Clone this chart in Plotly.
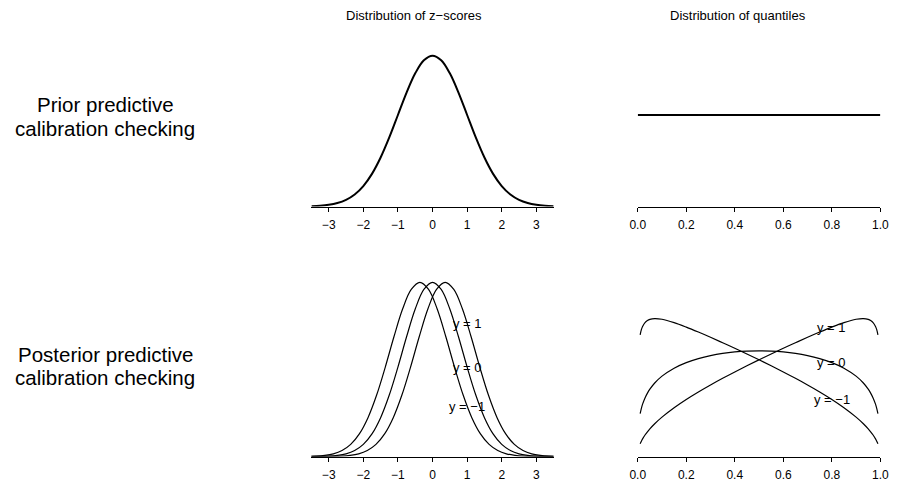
import plotly.graph_objects as go

# ---------------- data ----------------
# Top-left: distribution of z-scores (prior predictive)
z_grid = [-3.5, -3.25, -3.0, -2.75, -2.5, -2.25, -2.0, -1.75, -1.5, -1.25, -1.0, -0.75, -0.5, -0.25, 0.0,
          0.25, 0.5, 0.75, 1.0, 1.25, 1.5, 1.75, 2.0, 2.25, 2.5, 2.75, 3.0, 3.25, 3.5]
prior_z_density = [0.0009, 0.0020, 0.0044, 0.0091, 0.0175, 0.0317, 0.0540, 0.0863, 0.1295, 0.1826, 0.2420,
                   0.3011, 0.3521, 0.3867, 0.3989, 0.3867, 0.3521, 0.3011, 0.2420, 0.1826, 0.1295, 0.0863,
                   0.0540, 0.0317, 0.0175, 0.0091, 0.0044, 0.0020, 0.0009]

# Top-right: distribution of quantiles (prior predictive)
prior_q = [0.0, 1.0]
prior_q_density = [1.0, 1.0]

# Bottom-left: distribution of z-scores (posterior predictive), one curve per y
post_z_x_pos = [-3.5, -3.135, -2.885, -2.635, -2.385, -2.135, -1.885, -1.635, -1.385, -1.135, -0.885, -0.635,
                -0.385, -0.135, 0.115, 0.365, 0.615, 0.865, 1.115, 1.365, 1.615, 1.865, 2.115, 2.365,
                2.615, 2.865, 3.115, 3.365, 3.615, 3.865]
post_z_x_mid = [-3.75, -3.5, -3.25, -3.0, -2.75, -2.5, -2.25, -2.0, -1.75, -1.5, -1.25, -1.0, -0.75, -0.5, -0.25, 0.0,
                0.25, 0.5, 0.75, 1.0, 1.25, 1.5, 1.75, 2.0, 2.25, 2.5, 2.75, 3.0, 3.25, 3.5]
post_z_x_neg = [-3.865, -3.615, -3.365, -3.115, -2.865, -2.615, -2.365, -2.115, -1.865, -1.615, -1.365, -1.115,
                -0.865, -0.615, -0.365, -0.115, 0.135, 0.385, 0.635, 0.885, 1.135, 1.385, 1.635, 1.885,
                2.135, 2.385, 2.635, 2.885, 3.135, 3.5]
post_z_y_pos = [0.0000, 0.0001, 0.0004, 0.0011, 0.0030, 0.0071, 0.0158, 0.0320, 0.0598, 0.1028, 0.1625, 0.2365,
                0.3166, 0.3899, 0.4418, 0.4607, 0.4418, 0.3899, 0.3166, 0.2365, 0.1625, 0.1028, 0.0598,
                0.0320, 0.0158, 0.0071, 0.0030, 0.0011, 0.0004, 0.0001]
post_z_y_mid = [0.0000, 0.0001, 0.0004, 0.0011, 0.0030, 0.0071, 0.0158, 0.0320, 0.0598, 0.1028, 0.1625, 0.2365,
                0.3166, 0.3899, 0.4418, 0.4607, 0.4418, 0.3899, 0.3166, 0.2365, 0.1625, 0.1028, 0.0598,
                0.0320, 0.0158, 0.0071, 0.0030, 0.0011, 0.0004, 0.0001]
post_z_y_neg = [0.0001, 0.0004, 0.0011, 0.0030, 0.0071, 0.0158, 0.0320, 0.0598, 0.1028, 0.1625, 0.2365,
                0.3166, 0.3899, 0.4418, 0.4607, 0.4418, 0.3899, 0.3166, 0.2365, 0.1625, 0.1028, 0.0598,
                0.0320, 0.0158, 0.0071, 0.0030, 0.0011, 0.0004, 0.0001, 0.0000]

# Bottom-right: distribution of quantiles (posterior predictive)
q_grid = [0.01, 0.015, 0.02, 0.03, 0.04, 0.05, 0.07, 0.10, 0.15, 0.20, 0.25, 0.30, 0.35, 0.40, 0.45, 0.50,
          0.55, 0.60, 0.65, 0.70, 0.75, 0.80, 0.85, 0.90, 0.93, 0.95, 0.96, 0.97, 0.98, 0.985, 0.99]
q_density_y0 = [0.4686, 0.5268, 0.5717, 0.6404, 0.6928, 0.7355, 0.8032, 0.8783, 0.9654, 1.0261, 1.0704,
                1.1030, 1.1265, 1.1424, 1.1517, 1.1547, 1.1517, 1.1424, 1.1265, 1.1030, 1.0704, 1.0261,
                0.9654, 0.8783, 0.8032, 0.7355, 0.6928, 0.6404, 0.5717, 0.5268, 0.4686]
q_density_ym1 = [1.3303, 1.3861, 1.4213, 1.4637, 1.4863, 1.4987, 1.5074, 1.4996, 1.4629, 1.4142, 1.3601,
                 1.3028, 1.2433, 1.1825, 1.1204, 1.0566, 0.9913, 0.9241, 0.8546, 0.7819, 0.7054, 0.6234,
                 0.5335, 0.4307, 0.3583, 0.3022, 0.2704, 0.2346, 0.1926, 0.1676, 0.1382]
q_density_y1 = [0.1382, 0.1676, 0.1926, 0.2346, 0.2704, 0.3022, 0.3583, 0.4307, 0.5335, 0.6234, 0.7054,
                0.7819, 0.8546, 0.9241, 0.9913, 1.0566, 1.1204, 1.1825, 1.2433, 1.3028, 1.3601, 1.4142,
                1.4629, 1.4996, 1.5074, 1.4987, 1.4863, 1.4637, 1.4213, 1.3861, 1.3303]

# Curve labels
curve_labels = ["y = 1", "y = 0", "y = \u22121"]
z_label_x = [1.0, 1.0, 1.0]
z_label_y = [0.3521, 0.2365, 0.1331]
q_label_x = [0.8, 0.8, 0.8]
q_label_y = [1.4142, 1.0261, 0.6234]

# Axis ticks
z_tickvals = [-3, -2, -1, 0, 1, 2, 3]
z_ticktext = ["\u22123", "\u22122", "\u22121", "0", "1", "2", "3"]
q_tickvals = [0.0, 0.2, 0.4, 0.6, 0.8, 1.0]
q_ticktext = ["0.0", "0.2", "0.4", "0.6", "0.8", "1.0"]

col_titles = ["Distribution of z\u2212scores", "Distribution of quantiles"]
row_titles = [["Prior predictive", "calibration checking"],
              ["Posterior predictive", "calibration checking"]]

# ---------------- figure ----------------
W, H = 900, 484
PAGE_OFFSET = 8  # default body margin of the page that holds the figure
FONT = "Liberation Sans, Arial, Helvetica, sans-serif"

def px_x(p):
    return (p - PAGE_OFFSET) / W

def px_y(p):
    return 1 - (p - PAGE_OFFSET) / H

fig = go.Figure()

thick = dict(color="black", width=2)
thin = dict(color="black", width=1.2)

fig.add_trace(go.Scatter(x=z_grid, y=prior_z_density, mode="lines", line=dict(shape="spline", **thick),
                         xaxis="x", yaxis="y"))
fig.add_trace(go.Scatter(x=prior_q, y=prior_q_density, mode="lines", line=thick, xaxis="x2", yaxis="y2"))

for xs, ys in [(post_z_x_neg, post_z_y_neg), (post_z_x_mid, post_z_y_mid), (post_z_x_pos, post_z_y_pos)]:
    fig.add_trace(go.Scatter(x=xs, y=ys, mode="lines", line=dict(shape="spline", **thin),
                             xaxis="x3", yaxis="y3"))
for ys in [q_density_y1, q_density_y0, q_density_ym1]:
    fig.add_trace(go.Scatter(x=q_grid, y=ys, mode="lines", line=dict(shape="spline", **thin),
                             xaxis="x4", yaxis="y4"))

# domains in (screen) pixels
z_dom = [px_x(309.1), px_x(556.0)]
q_dom = [px_x(641.7), px_x(889.0)]
top_dom = [px_y(206.5), px_y(26.5)]
bot_dom = [px_y(456.5), px_y(276.5)]

def xaxis(dom, rng, tv, tt, anchor):
    return dict(domain=dom, range=rng, anchor=anchor, showline=True, linecolor="black", linewidth=1,
                ticks="outside", ticklen=4, tickwidth=1, tickcolor="black", tickvals=tv, ticktext=tt,
                showgrid=False, zeroline=False, tickfont=dict(family=FONT, size=12, color="black"),
                ticklabelstandoff=3)

def yaxis(dom, rng, anchor):
    return dict(domain=dom, range=rng, anchor=anchor, visible=False, showgrid=False, zeroline=False)

z_range = [-3.5, 3.5]
q_range = [0.0, 1.0]
zy_range = [0.0, 0.476]
qy_range = [0.0, 1.967]

fig.update_layout(
    width=W, height=H, autosize=False, margin=dict(l=0, r=0, t=0, b=0),
    paper_bgcolor="white", plot_bgcolor="white", showlegend=False,
    xaxis=xaxis(z_dom, z_range, z_tickvals, z_ticktext, "y"),
    yaxis=yaxis(top_dom, zy_range, "x"),
    xaxis2=xaxis(q_dom, q_range, q_tickvals, q_ticktext, "y2"),
    yaxis2=yaxis(top_dom, qy_range, "x2"),
    xaxis3=xaxis(z_dom, z_range, z_tickvals, z_ticktext, "y3"),
    yaxis3=yaxis(bot_dom, zy_range, "x3"),
    xaxis4=xaxis(q_dom, q_range, q_tickvals, q_ticktext, "y4"),
    yaxis4=yaxis(bot_dom, qy_range, "x4"),
)

ann = []
# column titles
for txt, cx in zip(col_titles, [414, 744]):
    ann.append(dict(text=txt, x=px_x(cx), y=px_y(15), xref="paper", yref="paper", showarrow=False,
                    xanchor="center", yanchor="middle", font=dict(family=FONT, size=13, color="black")))
# row titles
for lines, cy in zip(row_titles, [105, 354]):
    for i, line in enumerate(lines):
        ann.append(dict(text=line, x=px_x(99), y=px_y(cy + i * 23), xref="paper", yref="paper",
                        showarrow=False, xanchor="center", yanchor="middle",
                        font=dict(family=FONT, size=20.5, color="black")))
# curve labels
for txt, xv, yv in zip(curve_labels, z_label_x, z_label_y):
    ann.append(dict(text=txt, x=xv, y=yv, xref="x3", yref="y3", showarrow=False, xanchor="center",
                    yanchor="middle", font=dict(family=FONT, size=13, color="black")))
for txt, xv, yv in zip(curve_labels, q_label_x, q_label_y):
    ann.append(dict(text=txt, x=xv, y=yv, xref="x4", yref="y4", showarrow=False, xanchor="center",
                    yanchor="middle", font=dict(family=FONT, size=13, color="black")))
fig.update_layout(annotations=ann)

fig.write_html("out.html", config={"displayModeBar": False})
